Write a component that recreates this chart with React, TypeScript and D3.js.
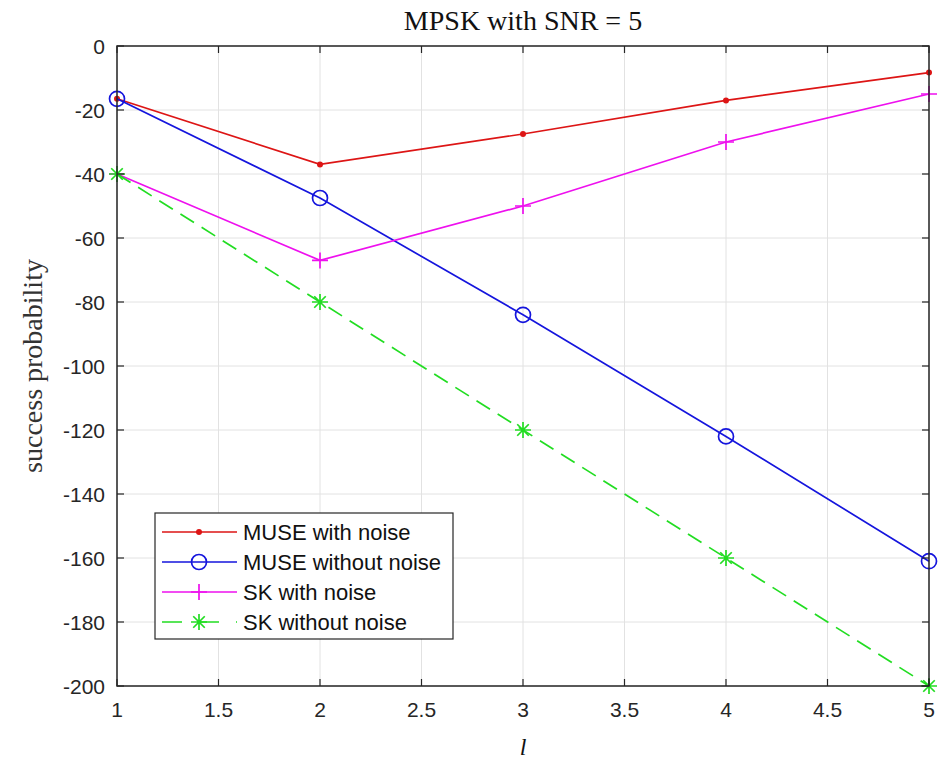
import { useEffect } from "react";
import * as d3 from "d3";

const lValues = [1, 2, 3, 4, 5];
const museNoise = [-16.5, -37, -27.5, -17, -8.3];
const museClean = [-16.5, -47.5, -84, -122, -161];
const skNoise = [-40, -67, -50, -30, -15];
const skClean = [-40, -80, -120, -160, -200];
const seriesNames = ["MUSE with noise", "MUSE without noise", "SK with noise", "SK without noise"];
const xTicks = [1, 1.5, 2, 2.5, 3, 3.5, 4, 4.5, 5];
const yTicks = [0, -20, -40, -60, -80, -100, -120, -140, -160, -180, -200];

const W = 940, H = 759;
const M = { left: 117, right: 11, top: 46, bottom: 73 };
const SANS = "'Liberation Sans', Arial, sans-serif";
const SERIF = "'Liberation Serif', 'Times New Roman', serif";
const AX = "#262626";

type Mk = "dot" | "circle" | "plus" | "star";

function Marker({ kind, x, y, c }: { kind: Mk; x: number; y: number; c: string }) {
  if (kind === "dot") return <circle cx={x} cy={y} r={3} fill={c} />;
  if (kind === "circle") return <circle cx={x} cy={y} r={7.5} fill="none" stroke={c} strokeWidth={1.7} />;
  const s = 8;
  const plus = `M${x - s},${y}H${x + s}M${x},${y - s}V${y + s}`;
  if (kind === "plus") return <path d={plus} stroke={c} strokeWidth={1.7} />;
  const d = s * 0.72;
  return <path d={`${plus}M${x - d},${y - d}L${x + d},${y + d}M${x - d},${y + d}L${x + d},${y - d}`} stroke={c} strokeWidth={1.7} />;
}

export default function App() {
  useEffect(() => {
    document.body.style.margin = "0";
  }, []);

  const x = d3.scaleLinear().domain([1, 5]).range([M.left, W - M.right]);
  const y = d3.scaleLinear().domain([-200, 0]).range([H - M.bottom, M.top]);
  const line = d3.line<[number, number]>().x((d) => x(d[0])).y((d) => y(d[1]));

  const series = [
    { name: seriesNames[0], v: museNoise, c: "#dd1515", mk: "dot" as Mk, dash: undefined },
    { name: seriesNames[1], v: museClean, c: "#1515dd", mk: "circle" as Mk, dash: undefined },
    { name: seriesNames[2], v: skNoise, c: "#ee10ee", mk: "plus" as Mk, dash: undefined },
    { name: seriesNames[3], v: skClean, c: "#22dd22", mk: "star" as Mk, dash: "16,9" },
  ];

  const [x0, x1] = x.range();
  const [y0, y1] = [y(0), y(-200)];
  const lg = { x: 155, y: 513, w: 298, h: 126, row: 30 };

  return (
    <svg width={W} height={H} style={{ display: "block", background: "#fff" }}>
      {/* grid */}
      {xTicks.map((t) => (
        <line key={"gx" + t} x1={x(t)} x2={x(t)} y1={y0} y2={y1} stroke="#e2e2e2" strokeWidth={1} />
      ))}
      {yTicks.map((t) => (
        <line key={"gy" + t} x1={x0} x2={x1} y1={y(t)} y2={y(t)} stroke="#e2e2e2" strokeWidth={1} />
      ))}

      {/* series */}
      {series.map((s) => (
        <g key={s.name}>
          <path d={line(lValues.map((l, i) => [l, s.v[i]] as [number, number])) ?? ""} fill="none"
            stroke={s.c} strokeWidth={1.7} strokeDasharray={s.dash} />
          {lValues.map((l, i) => (
            <Marker key={l} kind={s.mk} x={x(l)} y={y(s.v[i])} c={s.c} />
          ))}
        </g>
      ))}

      {/* box + ticks */}
      <rect x={x0} y={y0} width={x1 - x0} height={y1 - y0} fill="none" stroke={AX} strokeWidth={1.5} />
      {xTicks.map((t) => (
        <g key={"tx" + t}>
          <line x1={x(t)} x2={x(t)} y1={y1} y2={y1 - 7} stroke={AX} strokeWidth={1.2} />
          <line x1={x(t)} x2={x(t)} y1={y0} y2={y0 + 7} stroke={AX} strokeWidth={1.2} />
          <text x={x(t)} y={y1 + 31} textAnchor="middle" fontFamily={SANS} fontSize={21} fill={AX}>{String(t)}</text>
        </g>
      ))}
      {yTicks.map((t) => (
        <g key={"ty" + t}>
          <line x1={x0} x2={x0 + 7} y1={y(t)} y2={y(t)} stroke={AX} strokeWidth={1.2} />
          <line x1={x1} x2={x1 - 7} y1={y(t)} y2={y(t)} stroke={AX} strokeWidth={1.2} />
          <text x={x0 - 12} y={y(t) + 7.5} textAnchor="end" fontFamily={SANS} fontSize={21} fill={AX}>{String(t)}</text>
        </g>
      ))}

      {/* labels */}
      <text x={(x0 + x1) / 2} y={30} textAnchor="middle" fontFamily={SERIF} fontSize={28} fill="#111">
        MPSK with SNR = 5
      </text>
      <text x={(x0 + x1) / 2} y={755} textAnchor="middle" fontFamily={SERIF} fontStyle="italic" fontSize={24} fill="#111">l</text>
      <text transform={`translate(42,${(y0 + y1) / 2}) rotate(-90)`} textAnchor="middle" fontFamily={SERIF} fontSize={28} fill="#333">
        success probability
      </text>

      {/* legend */}
      <rect x={lg.x} y={lg.y} width={lg.w} height={lg.h} fill="#fff" stroke={AX} strokeWidth={1.2} />
      {series.map((s, i) => {
        const cy = lg.y + 19 + i * lg.row;
        return (
          <g key={"lg" + s.name}>
            <line x1={lg.x + 7} x2={lg.x + 82} y1={cy} y2={cy} stroke={s.c} strokeWidth={1.6} strokeDasharray={s.dash ? "20,17" : undefined} />
            <Marker kind={s.mk} x={lg.x + 44} y={cy} c={s.c} />
            <text x={lg.x + 88} y={cy + 8} fontFamily={SANS} fontSize={22} fill="#111">{s.name}</text>
          </g>
        );
      })}
    </svg>
  );
}
